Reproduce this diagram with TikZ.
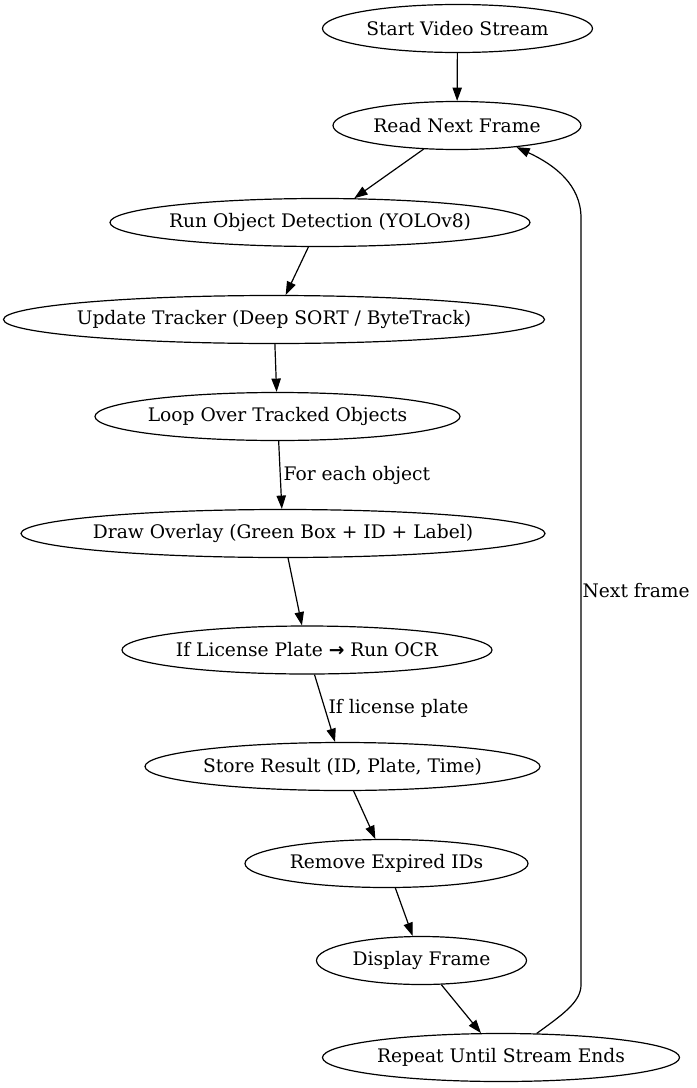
\documentclass[tikz,border=0pt]{standalone}
\usepackage{fontspec}
\setmainfont{DejaVu Serif}
\newfontfamily\arrowfont{DejaVu Sans}
\usetikzlibrary{shapes.geometric,arrows.meta}
\begin{document}
\begin{tikzpicture}[x=0.75pt,y=-0.75pt,
  txt/.style={font=\fontsize{14pt}{16.8pt}\selectfont},
  proc/.style={txt,ellipse,draw,line width=0.9pt,minimum height=36pt,inner sep=0pt,minimum width=#1},
  lbl/.style={txt,anchor=west,inner sep=1pt},
  arr/.style={line width=0.9pt,-{Triangle[length=10pt,width=7pt]}}]
\newcommand{\lab}[1]{\makebox[0pt]{#1}}
\useasboundingbox (0,0) rectangle (696,1088);
\node[proc=202.5pt] (start) at (457.5,28.5) {\lab{Start Video Stream}};
\node[proc=186pt] (read) at (457,125.5) {\lab{Read Next Frame}};
\node[proc=315pt] (run) at (320,222.5) {\lab{Run Object Detection (YOLOv8)}};
\node[proc=405.75pt] (upd) at (274,319.5) {\lab{Update Tracker (Deep SORT / ByteTrack)}};
\node[proc=273.75pt] (loop) at (277.5,416.5) {\lab{Loop Over Tracked Objects}};
\node[proc=393pt] (ovl) at (283,533.5) {\lab{Draw Overlay (Green Box + ID + Label)}};
\node[proc=277.5pt] (ocr) at (307,650) {\lab{If License Plate {\arrowfont\bfseries →} Run OCR}};
\node[proc=296.25pt] (store) at (342.5,766.5) {\lab{Store Result (ID, Plate, Time)}};
\node[proc=212.25pt] (rem) at (386.5,863.5) {\lab{Remove Expired IDs}};
\node[proc=157.5pt] (disp) at (421.5,960.5) {\lab{Display Frame}};
\node[proc=267.75pt] (rep) at (501,1057.5) {\lab{Repeat Until Stream Ends}};
\draw[arr] (start) -- (read);
\draw[arr] (read) -- (run);
\draw[arr] (run) -- (upd);
\draw[arr] (upd) -- (loop);
\draw[arr] (loop) -- (ovl);
\draw[arr] (ovl) -- (ocr);
\draw[arr] (ocr) -- (store);
\draw[arr] (store) -- (rem);
\draw[arr] (rem) -- (disp);
\draw[arr] (disp) -- (rep);
\coordinate (lb) at (581,985);
\coordinate (lt) at (581,218);
\draw[arr] (rep.34) .. controls (562,1015) and (581,1002) .. (lb) -- (lt) .. controls (581,185) and (555,165) .. (read.-20);
\node[lbl] (l1) at (282,475) {For each object};
\node[lbl] (l2) at (327,708) {If license plate};
\node[lbl] (l3) at (581,591) {Next frame};
\end{tikzpicture}
\end{document}
